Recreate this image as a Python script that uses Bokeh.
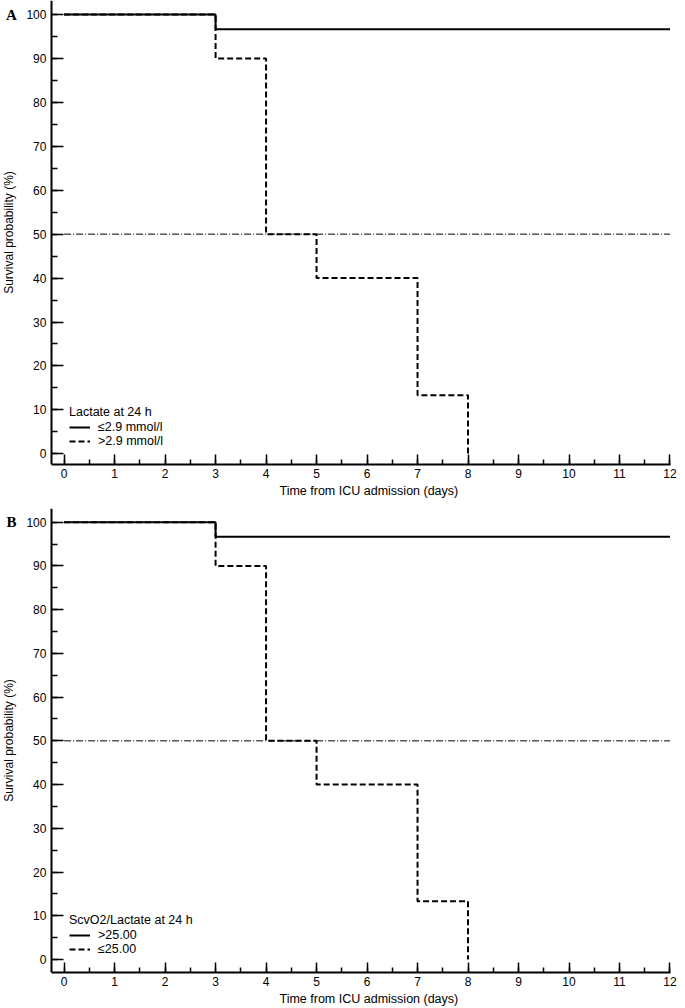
from bokeh.plotting import figure
from bokeh.models import (SingleIntervalTicker, Legend, LegendItem, Label,
                          Range1d, Title)
from bokeh.layouts import column
from bokeh.embed import file_html
from bokeh.resources import INLINE

# ---- data ----
# Panel A: Lactate at 24 h
a_days_low = [0, 3, 12]
a_surv_low = [100, 96.67, 96.67]          # <=2.9 mmol/l
a_days_high = [0, 3, 4, 5, 7, 8]
a_surv_high = [100, 90, 50, 40, 13.33, 0]  # >2.9 mmol/l
a_labels = ["\u22642.9 mmol/l", ">2.9 mmol/l"]
a_title = "Lactate at 24 h"

# Panel B: ScvO2/Lactate at 24 h
b_days_high = [0, 3, 12]
b_surv_high = [100, 96.67, 96.67]          # >25.00
b_days_low = [0, 3, 4, 5, 7, 8]
b_surv_low = [100, 90, 50, 40, 13.33, 0]   # <=25.00
b_labels = [">25.00", "\u226425.00"]
b_title = "ScvO2/Lactate at 24 h"

median_x = [0, 12]
median_y = [50, 50]

x_label = "Time from ICU admission (days)"
y_label = "Survival probability (%)"

FONT = "Liberation Sans"
X_AXIS_START = -0.25      # where the y axis sits
X_AXIS_END = 12.01
X_VIEW_START = -1.2595    # frame reaches the left edge of the canvas


def make_panel(letter, title, labels, xs_solid, ys_solid, xs_dash, ys_dash,
               y_lo, y_hi, height, b_top, b_bottom):
    p = figure(width=685, height=height, title=None,
               x_range=Range1d(X_VIEW_START, X_AXIS_END),
               y_range=Range1d(y_lo, y_hi),
               output_backend="svg", toolbar_location=None,
               min_border_left=0, min_border_right=15,
               min_border_top=b_top, min_border_bottom=b_bottom)
    p.outline_line_color = None
    p.xgrid.visible = False
    p.ygrid.visible = False

    p.line(median_x, median_y, line_color="black", line_width=1,
           line_dash="7 2 1 2")
    r_dash = p.step(xs_dash, ys_dash, mode="after", line_color="black",
                    line_width=2, line_dash="6 3")
    r_solid = p.step(xs_solid, ys_solid, mode="after", line_color="black",
                     line_width=2)

    for ax in (p.xaxis[0], p.yaxis[0]):
        ax.axis_line_width = 2
        ax.axis_line_color = "black"
        ax.major_tick_in = 10
        ax.major_tick_out = 0
        ax.minor_tick_in = 5
        ax.minor_tick_out = 0
        ax.major_tick_line_width = 1.5
        ax.minor_tick_line_width = 1.5
        ax.major_tick_line_color = "black"
        ax.minor_tick_line_color = "black"
        ax.major_label_text_font = FONT
        ax.major_label_text_font_size = "12px"
        ax.major_label_text_color = "black"
        ax.major_label_standoff = 5
        ax.axis_label_text_font = FONT
        ax.axis_label_text_font_size = "12px"
        ax.axis_label_text_font_style = "normal"
        ax.axis_label_text_color = "black"

    p.xaxis.ticker = SingleIntervalTicker(interval=1, num_minor_ticks=2)
    p.xaxis.bounds = (X_AXIS_START, X_AXIS_END)
    p.xaxis.major_label_standoff = 4
    p.yaxis.ticker = SingleIntervalTicker(interval=10, num_minor_ticks=2)
    p.yaxis.fixed_location = X_AXIS_START
    p.yaxis.major_tick_in = 12
    p.yaxis.minor_tick_in = 6
    p.yaxis.axis_label = y_label
    p.yaxis.axis_label_standoff = 7

    p.add_layout(Title(text=x_label, align="left", offset=279,
                       text_font=FONT, text_font_size="12.5px",
                       text_font_style="normal", text_color="black",
                       standoff=3), "below")

    legend = Legend(items=[LegendItem(label=labels[0], renderers=[r_solid]),
                           LegendItem(label=labels[1], renderers=[r_dash])],
                    title=title, location=(69, 16),
                    border_line_color=None, background_fill_alpha=0,
                    padding=0, margin=0, spacing=-1,
                    glyph_height=12, glyph_width=21,
                    label_height=12, label_standoff=8,
                    label_text_font=FONT, label_text_font_size="12.5px",
                    label_text_color="black",
                    title_text_font=FONT, title_text_font_size="12.5px",
                    title_text_color="black",
                    title_text_font_style="normal", title_standoff=1)
    p.add_layout(legend)

    p.add_layout(Label(x=11, y=100, x_units="screen", y_units="data",
                       text=letter, text_font="Liberation Serif",
                       text_font_style="bold", text_font_size="15px",
                       text_align="center", text_baseline="middle",
                       text_color="black"))
    return p


pA = make_panel("A", a_title, a_labels, a_days_low, a_surv_low,
                a_days_high, a_surv_high, -2.44, 103.19, 504, 0, 40)
pB = make_panel("B", b_title, b_labels, b_days_high, b_surv_high,
                b_days_low, b_surv_low, -2.97, 103.13, 504, 4, 36)

layout = column(pA, pB, spacing=0)
open("out.html", "w").write(file_html(layout, INLINE))
